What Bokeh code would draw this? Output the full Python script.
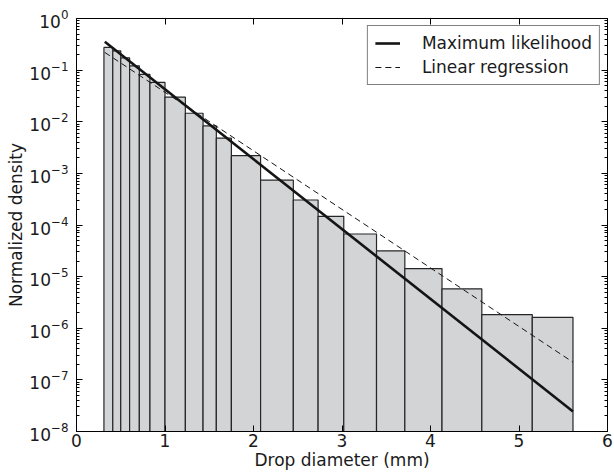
from bokeh.plotting import figure
from bokeh.models import (ColumnDataSource, FixedTicker, LinearAxis, LogAxis,
                          Legend, LegendItem, Range1d, CustomJSTickFormatter)
from bokeh.embed import file_html
from bokeh.resources import INLINE

# Histogram of drop diameters (variable-width bins, normalized density)
bin_edges = [0.31, 0.41, 0.50, 0.60, 0.71, 0.83, 1.00, 1.23, 1.43, 1.58, 1.75,
             2.08, 2.45, 2.73, 3.02, 3.39, 3.71, 4.13, 4.58, 5.15, 5.61]
density = [0.275, 0.237, 0.173, 0.121, 0.0824, 0.0577, 0.030, 0.0146, 0.0083,
           0.0048, 0.0022, 7.4e-4, 3.05e-4, 1.47e-4, 6.7e-5, 3.14e-5, 1.43e-5,
           5.8e-6, 1.84e-6, 1.63e-6]

# Fitted exponential models (straight lines on the log axis)
ml_x = [0.32, 5.61]
ml_y = [0.353, 2.45e-8]
lr_x = [0.32, 5.61]
lr_y = [0.22, 2.2e-7]

x_ticks = [0, 1, 2, 3, 4, 5, 6]
y_tick_exponents = [0, -1, -2, -3, -4, -5, -6, -7, -8]

FONT = "DejaVu Sans"
FS = "17px"

y_major = [10.0 ** e for e in y_tick_exponents]
y_minor = [m * 10.0 ** e for e in y_tick_exponents[1:] for m in range(2, 10)]


def y_ticker():
    return FixedTicker(ticks=y_major, minor_ticks=y_minor)


def x_ticker():
    return FixedTicker(ticks=x_ticks, minor_ticks=[])


p = figure(width=614, height=472, output_backend="svg", toolbar_location=None,
           x_range=Range1d(0, 6), y_range=Range1d(1e-8, 1),
           y_axis_type="log",
           min_border_left=76, min_border_right=7,
           min_border_top=18, min_border_bottom=41)
p.grid.visible = False
p.outline_line_color = "black"
p.background_fill_color = "white"
p.border_fill_color = "white"

bars = ColumnDataSource(dict(
    left=bin_edges[:-1], right=bin_edges[1:], top=density,
    bottom=[1e-8] * len(density)))
p.quad(left="left", right="right", top="top", bottom="bottom", source=bars,
       fill_color="#d3d4d6", line_color="#262626", line_width=1.2)

ml = p.line(ml_x, ml_y, line_color="#141414", line_width=2.6)
lr = p.line(lr_x, lr_y, line_color="#141414", line_width=1,
            line_dash="6 4")


def style_axis(ax, ticker, labels=True):
    ax.ticker = ticker
    ax.axis_line_color = "black"
    ax.major_tick_line_color = "black"
    ax.minor_tick_line_color = "black"
    ax.major_tick_in = 6
    ax.major_tick_out = 0
    ax.minor_tick_in = 3
    ax.minor_tick_out = 0
    ax.major_label_text_font = FONT
    ax.major_label_text_color = "#1a1a1a"
    if labels:
        ax.major_label_text_font_size = FS
    else:
        # mirrored spine: ticks only, blank labels
        ax.formatter = CustomJSTickFormatter(code="return ''")
        ax.major_label_text_font_size = "1px"
        ax.major_label_standoff = 0


xa = p.xaxis[0]
style_axis(xa, x_ticker())
xa.major_label_standoff = 2
xa.axis_label = "Drop diameter (mm)"
xa.axis_label_text_font = FONT
xa.axis_label_text_font_size = FS
xa.axis_label_text_font_style = "normal"
xa.axis_label_text_color = "#1a1a1a"
xa.axis_label_standoff = 0

ya = p.yaxis[0]
style_axis(ya, y_ticker())
ya.major_label_standoff = 8
ya.axis_label = "Normalized density"
ya.axis_label_text_font = FONT
ya.axis_label_text_font_size = FS
ya.axis_label_text_font_style = "normal"
ya.axis_label_text_color = "#1a1a1a"
ya.axis_label_standoff = 0

top_axis = LinearAxis()
style_axis(top_axis, x_ticker(), labels=False)
p.add_layout(top_axis, "above")

right_axis = LogAxis()
style_axis(right_axis, y_ticker(), labels=False)
p.add_layout(right_axis, "right")

legend = Legend(items=[LegendItem(label="Maximum likelihood", renderers=[ml]),
                       LegendItem(label="Linear regression", renderers=[lr])],
                location="top_right")
legend.label_text_font = FONT
legend.label_text_font_size = FS
legend.label_text_color = "#1a1a1a"
legend.border_line_color = "black"
legend.border_line_width = 1
legend.background_fill_alpha = 1
legend.padding = 7
legend.spacing = 4
legend.margin = 7
legend.glyph_width = 25
legend.label_standoff = 22
p.add_layout(legend)

open("out.html", "w").write(file_html(p, INLINE))
